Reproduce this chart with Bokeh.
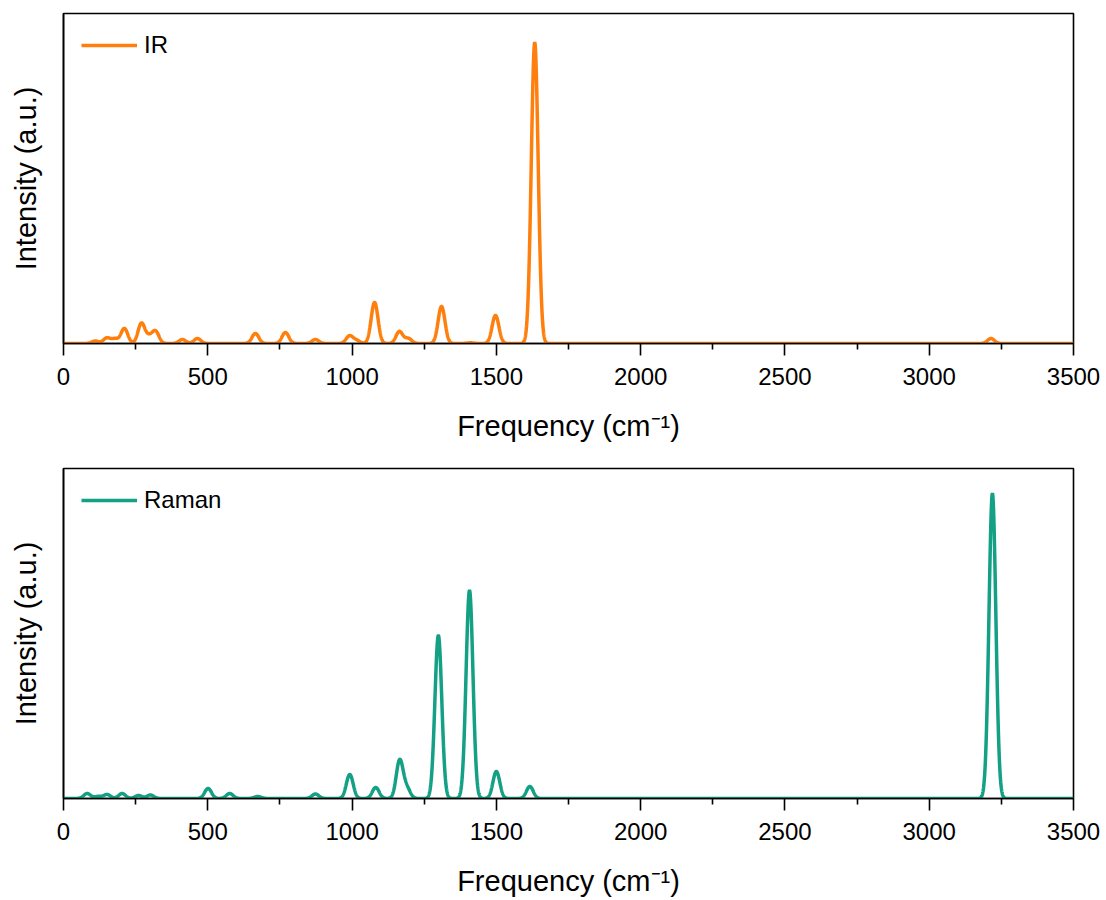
import numpy as np
from bokeh.plotting import figure
from bokeh.layouts import column
from bokeh.models import Range1d, SingleIntervalTicker, FixedTicker
from bokeh.embed import file_html
from bokeh.resources import INLINE

# ---- data (peak positions in cm-1 and relative intensities) ----
ir_freq = [110, 150, 178, 211, 270, 296, 319, 412, 464, 665, 769, 873, 991, 1015,
           1078, 1164, 1195, 1310, 1410, 1497, 1633, 3214]
ir_int = [2.5, 5.5, 4.5, 15, 20, 6, 12, 4, 5, 10, 11, 4, 7.5, 3,
          41, 12, 5, 37, 0.7, 28, 301, 5]

raman_freq = [82, 120, 151, 203, 260, 301, 501, 576, 673, 873, 992, 1082, 1165, 1190,
              1299, 1407, 1500, 1616, 3219]
raman_int = [5, 2, 4, 5, 3, 3.5, 10, 5, 2, 4.5, 24, 11, 38, 10,
             163, 208, 27, 12, 305]

fwhm = 28.0  # broadening of each band, cm-1
x_ticks = [0, 500, 1000, 1500, 2000, 2500, 3000, 3500]
x_label = "Frequency (cm\u207b\u00b9)"
y_label = "Intensity (a.u.)"

IR_COLOR = "#FF7F0E"
RAMAN_COLOR = "#13A085"
FONT = "Liberation Sans"


def spectrum(freqs, ints):
    x = np.linspace(0, 3500, 7001)
    s = fwhm / 2.3548
    y = np.zeros_like(x)
    for f, a in zip(freqs, ints):
        y += a * np.exp(-((x - f) ** 2) / (2 * s * s))
    return x, y


def make(freqs, ints, color, label, top_frac, bottom_border):
    x, y = spectrum(freqs, ints)
    ymax = max(ints)
    p = figure(frame_width=1010, frame_height=330,
               x_range=Range1d(0, 3500), y_range=Range1d(0, ymax * top_frac),
               output_backend="svg", toolbar_location=None,
               min_border_left=63, min_border_right=33, min_border_top=13,
               min_border_bottom=bottom_border)
    p.line(x, y, line_color=color, line_width=3.5, legend_label=label)
    p.grid.visible = False
    p.outline_line_color = "black"
    p.outline_line_width = 1.6
    p.background_fill_color = "white"
    p.border_fill_color = "white"

    xa = p.xaxis[0]
    xa.ticker = FixedTicker(ticks=x_ticks,
                            minor_ticks=[t + 250 for t in x_ticks[:-1]])
    xa.major_tick_out = 12
    xa.major_tick_in = 0
    xa.minor_tick_out = 6
    xa.minor_tick_in = 0
    xa.axis_line_width = 1.6
    xa.major_tick_line_width = 1.6
    xa.minor_tick_line_width = 1.6
    xa.major_label_text_font = FONT
    xa.major_label_text_font_size = "24px"
    xa.major_label_text_color = "black"
    xa.major_label_standoff = 12
    xa.axis_label = x_label
    xa.axis_label_text_font = FONT
    xa.axis_label_text_font_size = "29px"
    xa.axis_label_text_font_style = "normal"
    xa.axis_label_text_color = "black"
    xa.axis_label_standoff = 22

    ya = p.yaxis[0]
    ya.ticker = FixedTicker(ticks=[])
    ya.major_tick_out = 0
    ya.minor_tick_out = 0
    ya.axis_line_width = 1.6
    ya.axis_label = y_label
    ya.axis_label_text_font = FONT
    ya.axis_label_text_font_size = "29px"
    ya.axis_label_text_font_style = "normal"
    ya.axis_label_text_color = "black"
    ya.axis_label_standoff = 22

    lg = p.legend[0]
    lg.location = "top_left"
    lg.margin = 18
    lg.padding = 0
    lg.border_line_color = None
    lg.background_fill_alpha = 0
    lg.glyph_width = 56
    lg.glyph_height = 20
    lg.label_height = 20
    lg.label_standoff = 7
    lg.label_text_font = FONT
    lg.label_text_font_size = "24px"
    lg.label_text_color = "black"
    return p


p1 = make(ir_freq, ir_int, IR_COLOR, "IR", 330 / 301, 112)
p2 = make(raman_freq, raman_int, RAMAN_COLOR, "Raman", 330 / 305, 100)

layout = column(p1, p2, spacing=0)
open("out.html", "w").write(file_html(layout, INLINE))
